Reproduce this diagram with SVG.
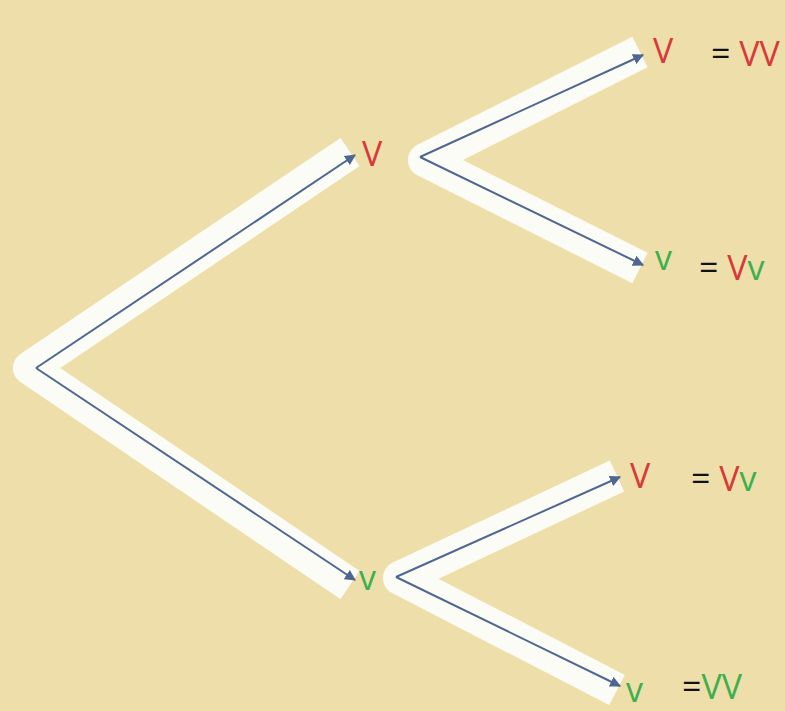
<svg xmlns="http://www.w3.org/2000/svg" width="785" height="711" viewBox="0 0 785 711">
<defs>
<marker id="ah" viewBox="0 0 10 10" refX="9" refY="5" markerWidth="5.5" markerHeight="5.5" orient="auto"><path d="M0,0 L10,5 L0,10 z" fill="#4E6690"/></marker>
<style>
.band{fill:none;stroke:#FCFCF6;stroke-width:34;stroke-linecap:butt;stroke-linejoin:round}
.arr{fill:none;stroke:#4E6690;stroke-width:2;marker-end:url(#ah)}
.t{font-family:"Open Sans","Liberation Sans",sans-serif;font-size:34px}
.r{fill:#D83A3A}.g{fill:#3DAF4F}.k{fill:#111}
</style>
</defs>
<rect width="785" height="711" fill="#EEDFAA"/>
<g id="bands">
<polyline class="band" points="350,152 30,368 350,585"/>
<polyline class="band" points="640,52 425,160 640,268"/>
<polyline class="band" points="617,476 400,578 617,690"/>
</g>
<g id="connectors">
<line class="arr" x1="36" y1="368" x2="355" y2="155"/>
<line class="arr" x1="36" y1="368" x2="355" y2="580"/>
<line class="arr" x1="420" y1="157" x2="643" y2="55"/>
<line class="arr" x1="420" y1="157" x2="643" y2="265"/>
<line class="arr" x1="396" y1="577" x2="620" y2="477"/>
<line class="arr" x1="396" y1="577" x2="620" y2="686"/>
</g>
<g id="n1"><text class="t r" x="362" y="166">V</text></g>
<g id="n2"><text class="t g" x="359" y="590" font-size="26">v</text></g>
<g id="n3"><text class="t r" x="653" y="63" font-size="32">V</text><text class="t" x="711" y="66"><tspan class="k">= </tspan><tspan class="r">VV</tspan></text></g>
<g id="n4"><text class="t g" x="655" y="270" font-size="26">v</text><text class="t" x="699" y="280"><tspan class="k">= </tspan><tspan class="r">V</tspan><tspan class="g">v</tspan></text></g>
<g id="n5"><text class="t r" x="630" y="488" font-size="32">V</text><text class="t" x="691" y="491"><tspan class="k">= </tspan><tspan class="r">V</tspan><tspan class="g">v</tspan></text></g>
<g id="n6"><text class="t g" x="626" y="702" font-size="26">v</text><text class="t" x="682" y="699"><tspan class="k">=</tspan><tspan class="g">VV</tspan></text></g>
</svg>
